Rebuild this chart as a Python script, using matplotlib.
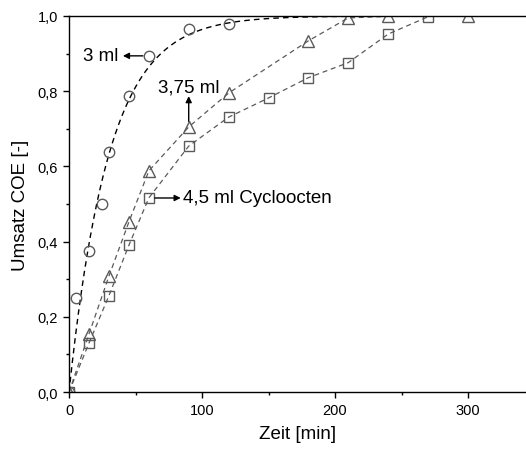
import numpy as np
import matplotlib
matplotlib.use("Agg")
import matplotlib.pyplot as plt
from matplotlib.ticker import MultipleLocator, FuncFormatter

plt.rcParams['font.family'] = ['Liberation Sans', 'DejaVu Sans']

# Conversion of COE over time for three cyclooctene volumes
t_3ml = [0, 5, 15, 25, 30, 45, 60, 90, 120]
x_3ml = [0.0, 0.25, 0.375, 0.50, 0.638, 0.787, 0.894, 0.965, 0.979]

t_375ml = [0, 15, 30, 45, 60, 90, 120, 180, 210, 240, 300]
x_375ml = [0.0, 0.154, 0.308, 0.452, 0.588, 0.705, 0.795, 0.934, 0.995, 0.999, 1.0]

t_45ml = [0, 15, 30, 45, 60, 90, 120, 150, 180, 210, 240, 270]
x_45ml = [0.0, 0.13, 0.256, 0.39, 0.516, 0.654, 0.731, 0.782, 0.836, 0.876, 0.952, 0.998]

x_ticks = [0, 100, 200, 300]
y_ticks = [0.0, 0.2, 0.4, 0.6, 0.8, 1.0]

fig = plt.figure(figsize=(5.26, 4.52), dpi=100)
ax = fig.add_axes([0.1312, 0.1305, 0.8688, 0.8319])

# First-order kinetic fit for the 3 ml run: X = 1 - exp(-k t), least squares on k
t = np.array(t_3ml, dtype=float)
x = np.array(x_3ml, dtype=float)
k_grid = np.linspace(0.005, 0.1, 9501)
sse = ((1 - np.exp(-np.outer(k_grid, t)) - x) ** 2).sum(axis=1)
k = k_grid[np.argmin(sse)]
tf = np.linspace(0, 345, 600)
xf = 1 - np.exp(-k * tf)
ax.plot(tf, xf, color='black', ls=(0, (4, 3)), lw=1.0)

grey = '#5a5a5a'
ax.plot(t_375ml, x_375ml, color=grey, ls=(0, (4, 3)), lw=0.9)
ax.plot(t_45ml, x_45ml, color=grey, ls=(0, (4, 3)), lw=0.9)

ax.plot(t_3ml, x_3ml, ls='none', marker='o', ms=7.5, mfc='none', mec=grey, mew=1.0)
ax.plot(t_375ml, x_375ml, ls='none', marker='^', ms=9, mfc='none', mec=grey, mew=1.0)
ax.plot(t_45ml, x_45ml, ls='none', marker='s', ms=7, mfc='none', mec=grey, mew=1.0)

arrow = dict(arrowstyle='-|>', color='black', lw=1.0, mutation_scale=9,
             shrinkA=0, shrinkB=0)
ax.text(37, 0.894, '3 ml', ha='right', va='center', fontsize=13.5)
ax.annotate('', xy=(40.5, 0.894), xytext=(55.5, 0.894), arrowprops=arrow)

ax.text(90, 0.812, '3,75 ml', ha='center', va='center', fontsize=13.5)
ax.annotate('', xy=(90, 0.787), xytext=(90, 0.72), arrowprops=arrow)

ax.text(85.5, 0.516, '4,5 ml Cycloocten', ha='left', va='center', fontsize=13.5)
ax.annotate('', xy=(84, 0.516), xytext=(64.5, 0.516), arrowprops=arrow)

ax.set_xlim(0, 343.6)
ax.set_ylim(0, 1.0)
ax.set_xticks(x_ticks)
ax.set_yticks(y_ticks)
ax.xaxis.set_minor_locator(MultipleLocator(50))
ax.yaxis.set_minor_locator(MultipleLocator(0.1))
ax.yaxis.set_major_formatter(FuncFormatter(lambda v, pos: f"{v:.1f}".replace('.', ',')))
ax.tick_params(which='major', direction='out', length=4.5, width=1.0, labelsize=10.5)
ax.tick_params(which='minor', direction='out', length=2.5, width=1.0)
ax.tick_params(top=False, right=False)
ax.spines['right'].set_visible(False)
for s in ['left', 'bottom', 'top']:
    ax.spines[s].set_linewidth(1.0)

ax.set_xlabel('Zeit [min]', fontsize=13.5, labelpad=6)
ax.set_ylabel('Umsatz COE [-]', fontsize=13.5, labelpad=6)

fig.savefig('out.png', dpi=100)
